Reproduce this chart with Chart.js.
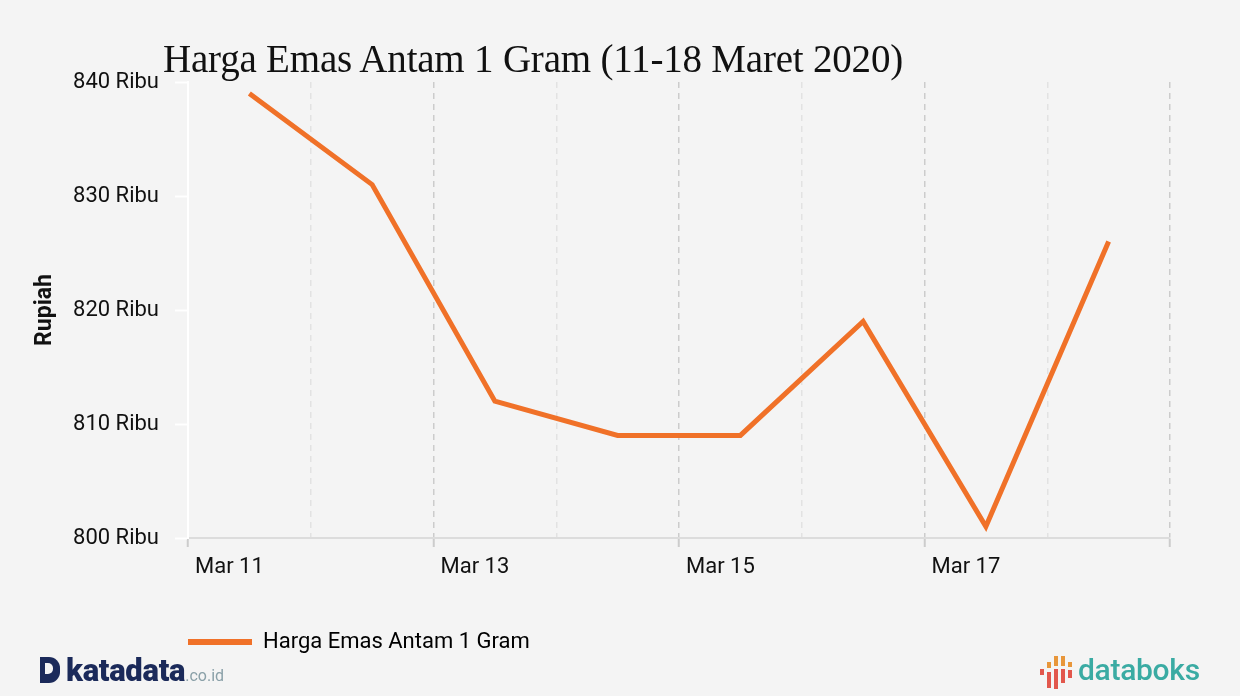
<!DOCTYPE html>
<html>
<head>
<meta charset="utf-8">
<script src="https://cdn.jsdelivr.net/npm/chart.js@4.4.1/dist/chart.umd.min.js"></script>
<style>
  html, body { margin:0; padding:0; background:#f4f4f4; }
  #wrap { position:relative; width:1240px; height:696px; background:#f4f4f4; overflow:hidden; }
  #c { position:absolute; left:0; top:0; }
  #title { position:absolute; left:163px; top:36px; font-family:"Liberation Serif","DejaVu Serif",serif; font-size:39px; color:#111; white-space:nowrap; letter-spacing:-0.2px; }
  #kata { position:absolute; left:40px; top:652px; font-family:Roboto,"Open Sans",sans-serif; font-weight:900; font-size:31px; color:#1b2a5a; letter-spacing:-0.3px; white-space:nowrap; }
  #kata .d { display:inline-block; position:relative; width:20px; height:26px; background:#1b2a5a; border-radius:0 11px 11px 0; margin-right:6px; vertical-align:-2px; }
  #kata .d::after { content:""; position:absolute; left:5px; top:6px; width:8px; height:11px; background:#f4f4f4; border-radius:0 5px 5px 0; }
  #kata .co { font-size:16px; font-weight:400; color:#8aa0a8; letter-spacing:0; }
  #boks { position:absolute; left:1040px; top:652px; white-space:nowrap; }
  #boks .t { position:absolute; left:38px; top:0; font-family:Roboto,"Open Sans",sans-serif; font-weight:500; font-size:30px; color:#3aaba3; letter-spacing:-0.3px; }
  .bar { position:absolute; width:4px; }
</style>
</head>
<body>
<div id="wrap">
  <canvas id="c" width="1240" height="696"></canvas>
  <div id="title">Harga Emas Antam 1 Gram (11-18 Maret 2020)</div>
  <div id="kata"><span class="d"></span>katadata<span class="co">.co.id</span></div>
  <div id="boks">
    <div class="bar" style="left:0px;top:17px;height:6px;background:#e2574c"></div>
    <div class="bar" style="left:7px;top:10px;height:6px;background:#e8963a"></div>
    <div class="bar" style="left:7px;top:20px;height:16px;background:#e2574c"></div>
    <div class="bar" style="left:14px;top:4px;height:10px;background:#e8963a"></div>
    <div class="bar" style="left:14px;top:17px;height:20px;background:#e2574c"></div>
    <div class="bar" style="left:21px;top:4px;height:10px;background:#e8963a"></div>
    <div class="bar" style="left:21px;top:17px;height:14px;background:#e2574c"></div>
    <div class="bar" style="left:28px;top:10px;height:5px;background:#e8963a"></div>
    <div class="bar" style="left:28px;top:18px;height:8px;background:#e2574c"></div>
    <div class="t">databoks</div>
  </div>
</div>
<script>
// ---- data ----
const dates = ['Mar 11', 'Mar 12', 'Mar 13', 'Mar 14', 'Mar 15', 'Mar 16', 'Mar 17', 'Mar 18'];
const prices = [839, 831, 812, 809, 809, 819, 801, 826];
const seriesName = 'Harga Emas Antam 1 Gram';
const yAxisTitle = 'Rupiah';
const yTickSuffix = ' Ribu';
const yMin = 800, yMax = 840, yStep = 10;

const orange = '#f07128';
Chart.defaults.font.family = 'Roboto, "Open Sans", sans-serif';
Chart.defaults.font.size = 22;
Chart.defaults.color = '#111';

const points = prices.map((v, i) => ({ x: i + 0.5, y: v }));

new Chart(document.getElementById('c'), {
  type: 'line',
  data: {
    datasets: [{
      label: seriesName,
      data: points,
      borderColor: orange,
      backgroundColor: orange,
      borderWidth: 5,
      pointRadius: 0,
      pointHoverRadius: 0,
      tension: 0,
      fill: false
    }]
  },
  options: {
    responsive: false,
    animation: false,
    events: [],
    layout: { padding: { left: 30, right: 70, top: 82, bottom: 33 } },
    plugins: {
      title: { display: false },
      tooltip: { enabled: false },
      legend: {
        display: true,
        position: 'bottom',
        align: 'start',
        fullSize: false,
        labels: {
          boxWidth: 64,
          boxHeight: 6,
          padding: 0,
          font: { size: 22 },
          color: '#111',
          generateLabels: (chart) => [{
            text: seriesName,
            fillStyle: orange,
            strokeStyle: orange,
            lineWidth: 0,
            hidden: false,
            datasetIndex: 0
          }]
        }
      }
    },
    scales: {
      x: {
        type: 'linear',
        min: 0,
        max: dates.length,
        afterFit: (s) => { s.height = 93; },
        afterBuildTicks: (s) => { s.ticks = dates.map((d, i) => ({ value: i })).concat([{ value: dates.length }]); },
        ticks: {
          autoSkip: false,
          maxRotation: 0,
          align: 'start',
          labelOffset: 7,
          padding: 7,
          color: '#111',
          font: { size: 22 },
          callback: (v) => (v % 2 === 0 && v < dates.length) ? dates[v] : ''
        },
        grid: {
          display: true,
          drawOnChartArea: true,
          lineWidth: 1.5,
          color: (ctx) => (ctx.tick && ctx.tick.value % 2 === 0) ? '#cccccc' : '#e2e2e2',
          tickColor: (ctx) => (ctx.tick && ctx.tick.value % 2 === 0) ? '#cccccc' : 'rgba(0,0,0,0)',
          tickLength: 9,
          tickWidth: 2
        },
        border: { display: true, color: '#dcdcdc', width: 2, dash: [6, 5] }
      },
      y: {
        min: yMin,
        max: yMax,
        afterFit: (s) => { s.width = 158; },
        ticks: {
          stepSize: yStep,
          padding: 16,
          color: '#111',
          font: { size: 22 },
          callback: (v) => v + yTickSuffix
        },
        title: {
          display: true,
          text: yAxisTitle,
          color: '#111',
          font: { size: 23, weight: 'bold' },
          padding: { top: 1, bottom: 0 }
        },
        grid: {
          display: true,
          drawOnChartArea: false,
          color: '#ffffff',
          tickColor: '#ffffff',
          tickLength: 13,
          tickWidth: 2
        },
        border: { display: true, color: '#ffffff', width: 2 }
      }
    }
  }
});
</script>
</body>
</html>
